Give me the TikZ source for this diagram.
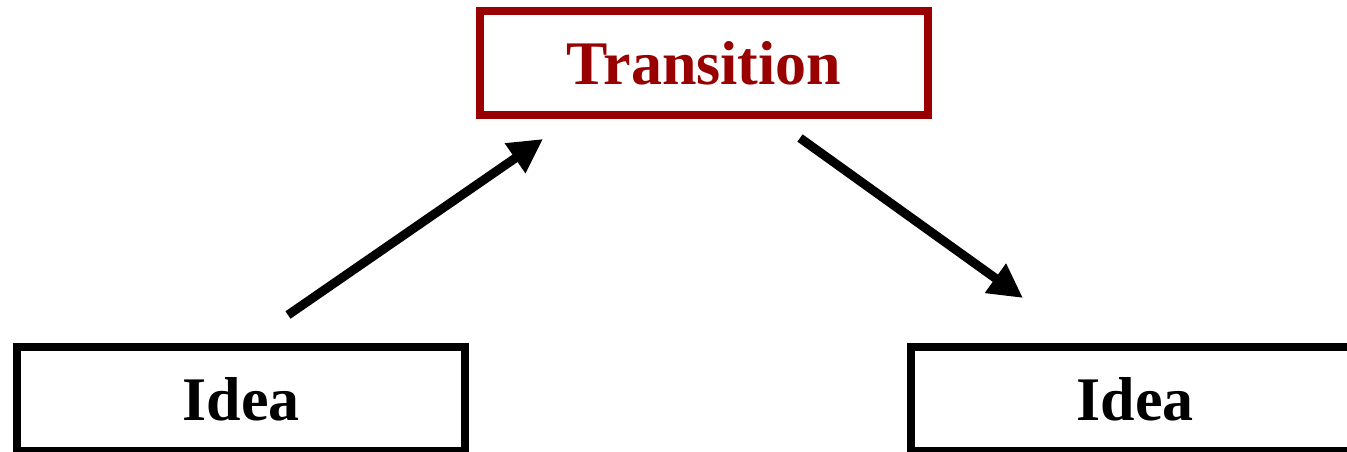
\documentclass[tikz,border=0pt]{standalone}
\usepackage{fontspec}
\setmainfont{Liberation Serif}
\usetikzlibrary{positioning, arrows.meta}
\definecolor{transred}{RGB}{153,0,0}

\begin{document}
\begin{tikzpicture}[
    x=1pt, y=1pt,
    node distance=438pt,
    every node/.style={font=\fontsize{62}{70}\selectfont\bfseries, align=center},
    box/.style={
        draw, line width=8pt, minimum width=448pt, minimum height=104pt, inner sep=0pt
    },
    line/.style={-{Triangle[length=34pt, width=34pt]}, line width=9pt}
]
\useasboundingbox (0,0) rectangle (1347,451);

% --- Top: transition box ---
\node[box, draw=transred, text=transred] (trans) at (704,388) {Transition};

% --- Bottom row: the two ideas ---
\node[box] (ideaL) at (241,52) {Idea};
\node[box, right=of ideaL] (ideaR) {Idea};

% --- Free arrow ends ---
\coordinate (upS) at (288,136);
\coordinate (upE) at (543,312);
\coordinate (downS) at (800,313);
\coordinate (downE) at (1023,153);

\draw[line] (upS) -- (upE);
\draw[line] (downS) -- (downE);

\end{tikzpicture}
\end{document}
